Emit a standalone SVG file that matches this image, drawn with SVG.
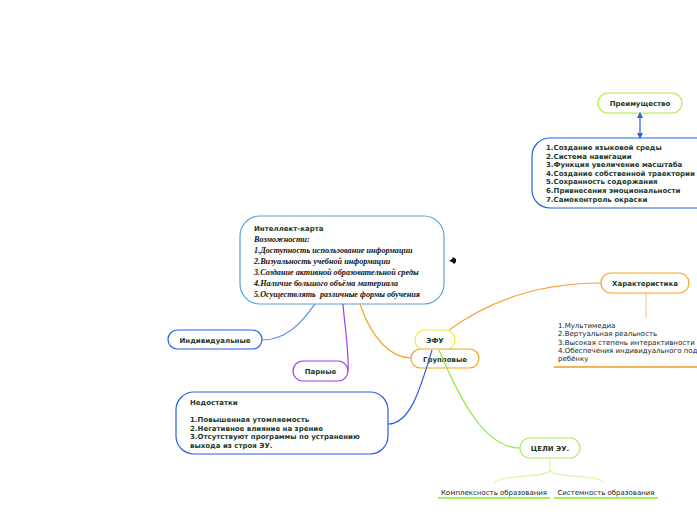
<svg xmlns="http://www.w3.org/2000/svg" width="697" height="520" viewBox="0 0 697 520">
<defs>
<style>
.n{fill:#fff;stroke-width:1.2}
.b{font-family:"DejaVu Sans",Verdana,sans-serif;font-weight:bold;font-size:7px;fill:#1b3a2c}
.c{text-anchor:middle}
.t{font-family:"DejaVu Sans",Verdana,sans-serif;font-size:7px;fill:#222}
.i{font-family:"Liberation Serif","Times New Roman",serif;font-style:italic;font-weight:bold;font-size:8.2px;fill:#111}
.l{fill:none;stroke-width:1.2}
</style>
<marker id="ah" viewBox="0 0 6 6" refX="5" refY="3" markerWidth="5" markerHeight="5" orient="auto-start-reverse"><path d="M0,0 L6,3 L0,6 Z" fill="#2563e0"/></marker>
</defs>
<rect width="697" height="520" fill="#fff"/>
<g id="intellect">
<rect class="n" x="240" y="216" width="204" height="88" rx="20" stroke="#5aa2dc"/>
<text class="b" x="254" y="231">Интеллект-карта</text>
<text class="i" x="254" y="242">Возможности:</text>
<text class="i" x="254" y="253">1.Доступность использование информации</text>
<text class="i" x="254" y="264">2.Визуальность учебной информации</text>
<text class="i" x="254" y="275">3.Создание активной образовательной среды</text>
<text class="i" x="254" y="286">4.Наличие большого объёма материала</text>
<text class="i" x="254" y="297" xml:space="preserve">5.Осуществлять  различные формы обучения</text>
</g>
<g id="icon">
<path d="M449,261 L452,259 L453,257 L456,259 L456,262 L454,264 L452,262 Z" fill="#111"/>
</g>
<g id="preimushchestvo">
<rect class="n" x="598" y="93" width="84" height="20" rx="10" stroke="#b4ec3c"/>
<text class="b c" x="640" y="106">Преимущество</text>
</g>
<g id="advantages">
<rect class="n" x="532" y="138" width="190" height="70" rx="18" stroke="#2563e0"/>
<text class="b" x="546" y="150">1.Создание языковой среды</text>
<text class="b" x="546" y="158.6">2.Система навигации</text>
<text class="b" x="546" y="167.2">3.Функция увеличение масштаба</text>
<text class="b" x="546" y="175.8">4.Создание собственной траектории обучения</text>
<text class="b" x="546" y="184.4">5.Сохранность содержания</text>
<text class="b" x="546" y="193">6.Привнесения эмоциональности</text>
<text class="b" x="546" y="201.6">7.Самоконтроль окраски</text>
</g>
<g id="kharakteristika">
<rect class="n" x="601" y="273" width="88" height="20" rx="10" stroke="#f5a623"/>
<text class="b c" x="645" y="286">Характеристика</text>
</g>
<g id="char-list">
<text class="t" x="558" y="328">1.Мультимедиа</text>
<text class="t" x="558" y="336.3">2.Вертуальная реальность</text>
<text class="t" x="558" y="344.6">3.Высокая степень интерактивности</text>
<text class="t" x="558" y="352.9">4.Обеспечения индивидуального подхода к</text>
<text class="t" x="558" y="361.2">ребёнку</text>
<line x1="554" y1="367" x2="697" y2="367" stroke="#f59a1e" stroke-width="1.5"/>
</g>
<g id="efu">
<rect class="n" x="415" y="330" width="40" height="20" rx="10" stroke="#f2ee3c"/>
<text class="b c" x="435" y="343">ЭФУ</text>
</g>
<g id="gruppovye">
<rect class="n" x="411" y="349" width="68" height="19" rx="9.5" stroke="#f5a623"/>
<text class="b c" x="445" y="361.5">Групповые</text>
</g>
<g id="individualnye">
<rect class="n" x="168" y="330" width="94" height="19" rx="9.5" stroke="#2a5ee8"/>
<text class="b c" x="215" y="342.5">Индивидуальные</text>
</g>
<g id="parnye">
<rect class="n" x="293" y="361" width="55" height="20" rx="10" stroke="#a03cf0"/>
<text class="b c" x="320.5" y="374">Парные</text>
</g>
<g id="nedostatki">
<rect class="n" x="176" y="392" width="212" height="62" rx="18" stroke="#2a5ee8"/>
<text class="b" x="190" y="405">Недостатки</text>
<text class="b" x="190" y="422">1.Повышенная утомляемость</text>
<text class="b" x="190" y="430.5">2.Негативное влияние на зрение</text>
<text class="b" x="190" y="439">3.Отсутствуют программы по устранению</text>
<text class="b" x="190" y="447.5">выхода из строя ЭУ.</text>
</g>
<g id="tseli">
<rect class="n" x="520" y="438" width="60" height="20" rx="10" stroke="#a8ee5a"/>
<text class="b c" x="550" y="451">ЦЕЛИ ЭУ.</text>
</g>
<g id="kompleksnost">
<text class="t c" x="494" y="494.5">Комплексность образования</text>
<line x1="438" y1="498" x2="550" y2="498" stroke="#86ee2a" stroke-width="1.5"/>
</g>
<g id="sistemnost">
<text class="t c" x="606" y="494.5">Системность образования</text>
<line x1="554" y1="498" x2="658" y2="498" stroke="#86ee2a" stroke-width="1.5"/>
</g>
<g id="connectors">
<path class="l" d="M449,330 C490,300 540,283 601,283" stroke="#f5a02a" stroke-width="2"/>
<path class="l" d="M360,304 C372,340 392,358 411,358" stroke="#f5a623"/>
<path class="l" d="M343,304 C345,330 349,350 348,371" stroke="#a03cf0"/>
<path class="l" d="M315,304 C300,325 285,340 262,340" stroke="#4a7ef0"/>
<path class="l" d="M432,350 C420,390 410,424 388,424" stroke="#2a5ee8"/>
<path class="l" d="M439,350 C460,400 485,448 520,448" stroke="#8ee83a"/>
<path class="l" d="M640,113 L640,138" stroke="#2563e0" marker-start="url(#ah)" marker-end="url(#ah)"/>
<path class="l" d="M646,293 L646,318" stroke="#f8cc90"/>
<path class="l" d="M550,458 L550,470 C550,478 500,474 494,483 M550,470 C550,478 600,474 604,483" stroke="#d8f8a8"/>
</g>
</svg>
